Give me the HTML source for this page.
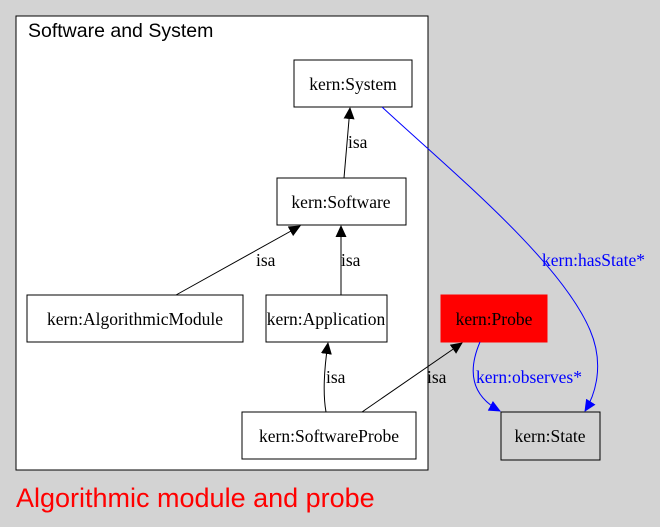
<!DOCTYPE html>
<html><head><meta charset="utf-8"><style>
html,body{margin:0;padding:0;background:#d3d3d3;}
svg{display:block;}
.t{font-family:"Liberation Serif",serif;font-size:17.5px;}
</style></head><body>
<svg width="660" height="527" viewBox="0 0 660 527" xmlns="http://www.w3.org/2000/svg">
<defs>
<marker id="ab" markerWidth="12" markerHeight="12" refX="11" refY="6" orient="auto" markerUnits="userSpaceOnUse"><path d="M0,0.5 L12,6 L0,11.5 z" fill="#000"/></marker>
<marker id="ablue" markerWidth="12" markerHeight="12" refX="11" refY="6" orient="auto" markerUnits="userSpaceOnUse"><path d="M0,0.5 L12,6 L0,11.5 z" fill="#00f"/></marker>
</defs>
<rect x="16" y="16" width="412" height="454" fill="#fff" stroke="#000" stroke-width="1"/>
<text x="28" y="37" style="font-family:'Liberation Sans',sans-serif;font-size:19.5px">Software and System</text>

<g fill="#fff" stroke="#000" stroke-width="1">
<rect x="294" y="60" width="118" height="47"/>
<rect x="277" y="178" width="129" height="47"/>
<rect x="27" y="295" width="216" height="47"/>
<rect x="266" y="295" width="121" height="47"/>
<rect x="242" y="412" width="174" height="47"/>
</g>
<rect x="441" y="295" width="106" height="47" fill="#f00" stroke="#f00"/>
<rect x="501" y="412" width="99" height="48" fill="#d3d3d3" stroke="#000"/>

<g class="t" text-anchor="middle">
<text x="353" y="90">kern:System</text>
<text x="341" y="208">kern:Software</text>
<text x="135" y="325">kern:AlgorithmicModule</text>
<text x="326" y="325">kern:Application</text>
<text x="329" y="442">kern:SoftwareProbe</text>
<text x="494" y="325">kern:Probe</text>
<text x="550" y="442">kern:State</text>
</g>

<g stroke="#000" fill="none">
<path d="M344,178 L350,108" marker-end="url(#ab)"/>
<path d="M176,295 L300,226" marker-end="url(#ab)"/>
<path d="M341,295 L341,226" marker-end="url(#ab)"/>
<path d="M326,412 C323,395 324,370 328,343" marker-end="url(#ab)"/>
<path d="M362,412 L462,343" marker-end="url(#ab)"/>
</g>
<g stroke="#00f" fill="none">
<path d="M382,107 C450,170 560,260 590,330 C605,365 595,395 585,411" marker-end="url(#ablue)"/>
<path d="M480,342 C468,370 470,395 500,411" marker-end="url(#ablue)"/>
</g>
<g class="t">
<text x="348" y="148">isa</text>
<text x="256" y="266">isa</text>
<text x="341" y="266">isa</text>
<text x="326" y="383">isa</text>
<text x="427" y="383">isa</text>
<text x="542" y="266" fill="#00f">kern:hasState*</text>
<text x="476" y="383" fill="#00f">kern:observes*</text>
</g>
<text x="16" y="507" style="font-family:'Liberation Sans',sans-serif;font-size:27px" fill="#f00">Algorithmic module and probe</text>
</svg>
</body></html>
